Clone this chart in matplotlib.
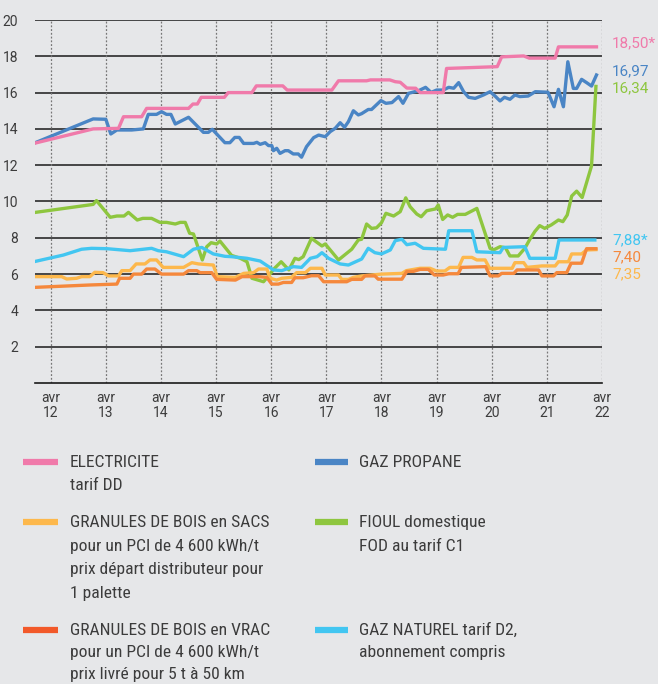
import matplotlib
matplotlib.use("Agg")
import matplotlib.pyplot as plt
from matplotlib.lines import Line2D
from matplotlib import font_manager as fm

plt.rcParams['font.family'] = ['Roboto', 'DejaVu Sans']

# ---------------- data (x = year, 12.0 = avril 2012) ----------------
elec_x = [11.72, 12.77, 13.23, 13.32, 13.65, 13.74, 14.50, 14.58, 14.66, 14.73, 15.15, 15.22,
          15.65, 15.73, 16.21, 16.29, 17.10, 17.22, 17.73, 17.80, 18.15, 18.25, 18.34, 18.46,
          18.62, 18.70, 19.12, 19.18, 20.10, 20.18, 20.58, 20.68, 21.15, 21.21, 21.90]
elec_y = [13.22, 14.0, 14.03, 14.67, 14.67, 15.13, 15.13, 15.37, 15.37, 15.74, 15.74, 16.0,
          16.0, 16.37, 16.37, 16.14, 16.14, 16.65, 16.65, 16.7, 16.7, 16.6, 16.57, 16.25,
          16.24, 16.0, 16.0, 17.33, 17.43, 17.97, 18.02, 17.9, 17.9, 18.52, 18.52]

propane_x = [11.72, 12.77, 13.00, 13.09, 13.20, 13.47, 13.68, 13.77, 13.92, 14.01, 14.10, 14.18,
             14.26, 14.50, 14.77, 14.86, 14.93, 15.16, 15.25, 15.34, 15.42, 15.50, 15.68, 15.74,
             15.80, 15.89, 15.95, 16.01, 16.04, 16.10, 16.16, 16.25, 16.31, 16.40, 16.49, 16.55,
             16.64, 16.77, 16.86, 16.98, 17.07, 17.16, 17.25, 17.33, 17.40, 17.49, 17.58, 17.64,
             17.76, 17.82, 17.99, 18.08, 18.19, 18.31, 18.39, 18.49, 18.67, 18.80, 18.90, 19.00,
             19.12, 19.22, 19.31, 19.40, 19.49, 19.58, 19.70, 19.85, 19.97, 20.06, 20.15, 20.23,
             20.33, 20.42, 20.51, 20.66, 20.79, 21.02, 21.13, 21.21, 21.30, 21.38, 21.48, 21.54,
             21.63, 21.72, 21.81, 21.90]
propane_y = [13.24, 14.55, 14.53, 13.72, 13.94, 13.94, 14.0, 14.8, 14.8, 14.95, 14.8, 14.8,
             14.27, 14.64, 13.81, 13.81, 13.98, 13.24, 13.24, 13.53, 13.53, 13.2, 13.2, 13.26,
             13.15, 13.24, 13.08, 13.08, 12.8, 12.93, 12.65, 12.8, 12.8, 12.62, 12.62, 12.44,
             13.02, 13.52, 13.66, 13.57, 13.85, 14.03, 14.34, 14.09, 14.4, 15.0, 14.77, 14.84,
             15.07, 15.07, 15.56, 15.41, 15.45, 15.78, 15.41, 15.96, 16.1, 16.29, 16.01, 16.14,
             16.14, 16.29, 16.24, 16.55, 16.05, 15.74, 15.68, 15.87, 16.05, 15.81, 15.54, 15.74,
             15.63, 15.87, 15.78, 15.81, 16.05, 16.02, 15.22, 16.18, 15.22, 17.70, 16.23, 16.23,
             16.73, 16.55, 16.36, 16.97]

fioul_x = [11.72, 12.77, 12.83, 13.08, 13.20, 13.33, 13.41, 13.57, 13.67, 13.83, 13.98, 14.10,
           14.26, 14.35, 14.44, 14.52, 14.59, 14.75, 14.83, 14.91, 15.01, 15.07, 15.28, 15.44,
           15.56, 15.65, 15.86, 15.95, 16.06, 16.18, 16.32, 16.43, 16.50, 16.58, 16.73, 16.92,
           16.98, 17.22, 17.46, 17.58, 17.64, 17.73, 17.82, 17.91, 18.00, 18.08, 18.22, 18.34,
           18.44, 18.52, 18.64, 18.72, 18.82, 18.98, 19.03, 19.11, 19.20, 19.29, 19.38, 19.52,
           19.73, 19.97, 20.03, 20.15, 20.25, 20.33, 20.48, 20.60, 20.69, 20.78, 20.87, 20.96,
           21.08, 21.21, 21.29, 21.37, 21.45, 21.54, 21.64, 21.81, 21.89]
fioul_y = [9.40, 9.84, 10.05, 9.13, 9.20, 9.20, 9.40, 8.98, 9.07, 9.07, 8.85, 8.85,
           8.76, 8.85, 8.85, 8.25, 8.21, 6.78, 7.51, 7.73, 7.66, 7.82, 7.03, 6.87,
           6.68, 5.77, 5.58, 5.90, 6.32, 6.68, 6.23, 6.87, 6.80, 6.96, 7.97, 7.55,
           7.66, 6.78, 7.37, 7.88, 7.92, 8.76, 8.52, 8.55, 8.83, 9.35, 9.20, 9.44,
           10.20, 9.71, 9.31, 9.16, 9.49, 9.59, 9.81, 9.01, 9.26, 9.13, 9.29, 9.29,
           9.62, 7.42, 7.33, 7.51, 7.45, 7.00, 7.00, 7.42, 7.91, 8.34, 8.67, 8.52,
           8.71, 8.98, 8.89, 9.26, 10.30, 10.57, 10.22, 11.96, 16.34]

naturel_x = [11.72, 12.23, 12.56, 12.74, 13.02, 13.44, 13.83, 13.95, 14.10, 14.41, 14.59, 14.74,
             14.95, 15.16, 15.28, 15.56, 15.80, 16.04, 16.19, 16.40, 16.55, 16.71, 16.83, 16.92,
             17.04, 17.25, 17.40, 17.64, 17.76, 17.88, 18.00, 18.16, 18.25, 18.37, 18.46, 18.61,
             18.76, 19.16, 19.22, 19.64, 19.73, 20.15, 20.21, 20.60, 20.69, 21.15, 21.22, 21.87]
naturel_y = [6.70, 7.05, 7.37, 7.42, 7.40, 7.29, 7.42, 7.29, 7.23, 6.96, 7.37, 7.47,
             7.11, 6.98, 6.96, 6.87, 6.72, 6.23, 6.19, 6.41, 6.37, 6.87, 6.96, 7.18,
             6.87, 6.56, 6.50, 6.83, 7.42, 7.18, 7.11, 7.33, 7.84, 7.92, 7.62, 7.70,
             7.42, 7.37, 8.39, 8.39, 7.23, 7.18, 7.47, 7.51, 6.87, 6.87, 7.88, 7.88]

sacs_x = [11.72, 12.20, 12.29, 12.47, 12.56, 12.71, 12.80, 12.95, 13.05, 13.23, 13.29, 13.44,
          13.55, 13.71, 13.80, 13.92, 14.04, 14.41, 14.56, 14.68, 14.95, 15.02, 15.35, 15.50,
          15.68, 15.77, 15.92, 15.98, 16.10, 16.19, 16.37, 16.46, 16.62, 16.71, 16.92, 16.98,
          17.22, 17.28, 17.40, 17.49, 17.64, 17.82, 18.00, 18.37, 18.45, 18.70, 18.88, 19.00,
          19.15, 19.24, 19.40, 19.48, 19.64, 19.73, 19.88, 19.96, 20.37, 20.42, 20.58, 20.64,
          20.91, 21.15, 21.21, 21.39, 21.45, 21.63, 21.72, 21.89]
sacs_y = [5.86, 5.86, 5.73, 5.77, 5.86, 5.86, 6.10, 6.08, 5.90, 5.90, 6.19, 6.19,
          6.56, 6.56, 6.78, 6.78, 6.37, 6.37, 6.63, 6.56, 6.50, 5.86, 5.82, 6.04,
          6.08, 6.28, 6.28, 5.77, 5.67, 5.77, 5.82, 6.08, 6.08, 6.32, 6.32, 5.95,
          5.95, 5.71, 5.71, 5.82, 5.90, 5.95, 6.00, 6.04, 6.19, 6.32, 6.32, 6.17,
          6.17, 6.37, 6.37, 6.92, 6.92, 6.78, 6.78, 6.32, 6.32, 6.63, 6.63, 6.37,
          6.45, 6.45, 6.68, 6.68, 7.11, 7.11, 7.33, 7.35]

vrac_x = [11.72, 12.71, 13.20, 13.25, 13.44, 13.50, 13.65, 13.74, 13.89, 14.01, 14.41, 14.50,
          14.65, 14.71, 14.92, 15.01, 15.35, 15.47, 15.77, 15.92, 16.01, 16.13, 16.22, 16.37,
          16.43, 16.58, 16.73, 16.86, 16.95, 17.37, 17.46, 17.64, 17.70, 17.88, 17.94, 18.37,
          18.46, 18.58, 18.70, 18.85, 18.96, 19.12, 19.22, 19.39, 19.45, 19.89, 19.97, 20.12,
          20.18, 20.40, 20.46, 20.85, 20.91, 21.12, 21.18, 21.36, 21.44, 21.63, 21.72, 21.89]
vrac_y = [5.27, 5.40, 5.45, 5.77, 5.77, 6.00, 6.00, 6.28, 6.28, 6.00, 6.00, 6.19,
          6.19, 6.08, 6.08, 5.71, 5.67, 5.86, 5.86, 5.82, 5.45, 5.45, 5.54, 5.54,
          5.80, 5.80, 5.91, 5.91, 5.58, 5.58, 5.71, 5.71, 5.90, 5.90, 5.72, 5.72,
          6.15, 6.15, 6.26, 6.26, 5.95, 5.95, 6.02, 6.02, 6.37, 6.41, 5.90, 5.90,
          6.04, 6.04, 6.23, 6.23, 5.90, 5.90, 6.08, 6.08, 6.60, 6.60, 7.40, 7.40]

years = list(range(12, 23))
y_ticks = [2, 4, 6, 8, 10, 12, 14, 16, 18, 20]

end_labels = ["18,50*", "16,97", "16,34", "7,88*", "7,40", "7,35"]

legend_texts = [
    "ELECTRICITE\ntarif DD",
    "GAZ PROPANE",
    "GRANULES DE BOIS en SACS\npour un PCI de 4 600 kWh/t\nprix départ distributeur pour\n1 palette",
    "FIOUL domestique\nFOD au tarif C1",
    "GRANULES DE BOIS en VRAC\npour un PCI de 4 600 kWh/t\nprix livré pour 5 t à 50 km",
    "GAZ NATUREL tarif D2,\nabonnement compris",
]

# ---------------- font choice for legend (narrow if available) ----------------
names = {f.name for f in fm.fontManager.ttflist}
if "Roboto Condensed" in names:
    leg_font = dict(family=["Roboto Condensed", "DejaVu Sans"], fontsize=12.6)
elif "Liberation Sans Narrow" in names:
    leg_font = dict(family=["Liberation Sans Narrow", "DejaVu Sans"], fontsize=12.6)
else:
    leg_font = dict(family=["Roboto", "DejaVu Sans"], fontsize=10.9)

# ---------------- styling ----------------
BG = "#e6e7e9"
PINK = "#f07aaa"
BLUE = "#4a85c5"
GREEN = "#8ec63f"
CYAN = "#42c6f1"
YELLOW = "#fdb84c"
ORANGE = "#f5883c"
ORANGE_LEG = "#f2592a"
TXT = "#3c3c3c"

W, H = 658, 684
fig = plt.figure(figsize=(W / 100, H / 100), dpi=100, facecolor=BG)
ax = fig.add_axes([35 / W, 1 - 383 / H, (602 - 35) / W, (383 - 20) / H], facecolor=BG)

ax.set_xlim(11.715, 22.0)
ax.set_ylim(0, 20)

for yv in y_ticks:
    ax.axhline(yv, color="#1a1a1a", lw=1.1, zorder=1)
for xv in years:
    ax.axvline(xv, color="#777777", lw=0.9, ls=(0, (1.5, 1.5)), zorder=1)

for s in ["top", "right", "left"]:
    ax.spines[s].set_visible(False)
ax.spines["bottom"].set_color("#1a1a1a")
ax.spines["bottom"].set_linewidth(1.2)

lw = 2.4
ax.plot(fioul_x, fioul_y, color=GREEN, lw=lw, zorder=3, solid_joinstyle="round")
ax.plot(naturel_x, naturel_y, color=CYAN, lw=lw, zorder=3, solid_joinstyle="round")
ax.plot(sacs_x, sacs_y, color=YELLOW, lw=lw, zorder=4, solid_joinstyle="round")
ax.plot(vrac_x, vrac_y, color=ORANGE, lw=lw, zorder=4, solid_joinstyle="round")
ax.plot(propane_x, propane_y, color=BLUE, lw=lw, zorder=5, solid_joinstyle="round")
ax.plot(elec_x, elec_y, color=PINK, lw=lw, zorder=6, solid_joinstyle="round")

ax.set_yticks(y_ticks)
ax.set_yticklabels([str(v) for v in y_ticks], fontsize=10, color=TXT)
ax.set_xticks(years)
ax.set_xticklabels(["avr\n%d" % y for y in years], fontsize=10, color=TXT, linespacing=1.1)
ax.tick_params(axis="y", length=0, pad=12)
ax.tick_params(axis="x", length=0, pad=6)

# end labels
end_cols = [PINK, BLUE, GREEN, CYAN, ORANGE, YELLOW]
end_pos = [43, 71, 88, 240, 257, 274]
for lab, col, py in zip(end_labels, end_cols, end_pos):
    fig.text(612 / W, 1 - py / H, lab, color=col, fontsize=11, va="center", ha="left")

# legend
leg_cols = [PINK, BLUE, YELLOW, GREEN, ORANGE_LEG, CYAN]
leg_rows = [461, 461, 521, 521, 629, 629]
leg_steps = [23.0, 23.0, 23.7, 23.7, 22.0, 22.0]
sw_x = [(23, 58), (315, 348)]
tx_x = [70, 359]
for i, (txt, col, py, step) in enumerate(zip(legend_texts, leg_cols, leg_rows, leg_steps)):
    c = i % 2
    fig.add_artist(Line2D([sw_x[c][0] / W, sw_x[c][1] / W], [1 - (py + 1) / H] * 2,
                          color=col, lw=4.5, solid_capstyle="butt"))
    for k, line in enumerate(txt.split("\n")):
        base = py + 6 + k * step
        fig.text(tx_x[c] / W, 1 - base / H, line, color=TXT, va="baseline",
                 ha="left", **leg_font)

fig.savefig("out.png", dpi=100, facecolor=BG)
